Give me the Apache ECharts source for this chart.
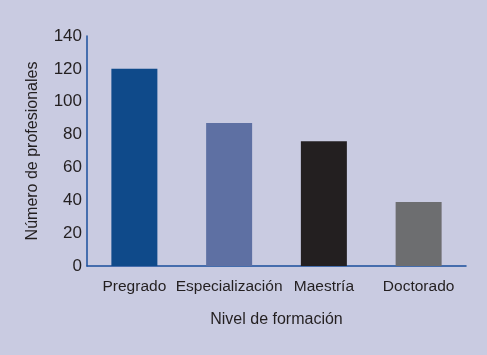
<!DOCTYPE html>
<html>
<head>
<meta charset="utf-8">
<script src="https://cdn.jsdelivr.net/npm/echarts@6/dist/echarts.min.js"></script>
<style>
  html, body { margin: 0; padding: 0; background: #c9cbe1; }
  #main { width: 487px; height: 355px; }
</style>
</head>
<body>
<div id="main"></div>
<script>
// nivel de formación
const categories = ['Pregrado', 'Especialización', 'Maestría', 'Doctorado'];
const values = [120, 87, 76, 39];
const barColors = ['#0f4a8a', '#5e70a3', '#231f20', '#6d6e70'];
const yTicks = [0, 20, 40, 60, 80, 100, 120, 140];

const textColor = '#231f20';
const axisColor = '#1a4f9c';
const font = 'Liberation Sans';

let myChart = echarts.init(document.getElementById('main'));
myChart.setOption({
  backgroundColor: '#c9cbe1',
  animation: false,
  grid: { left: 87, right: 21, top: 36, bottom: 89 },
  xAxis: {
    type: 'category',
    data: categories,
    name: 'Nivel de formación',
    nameLocation: 'middle',
    nameGap: 46,
    nameTextStyle: { color: textColor, fontSize: 16, fontFamily: font },
    axisLine: { show: true, lineStyle: { color: axisColor, width: 1.5 } },
    axisTick: { show: false },
    axisLabel: { color: textColor, fontSize: 15.5, fontFamily: font, margin: 13, interval: 0 }
  },
  yAxis: {
    type: 'value',
    min: yTicks[0],
    max: yTicks[yTicks.length - 1],
    interval: 20,
    name: 'Número de profesionales',
    nameLocation: 'middle',
    nameGap: 46,
    nameTextStyle: { color: textColor, fontSize: 16, fontFamily: font },
    axisLine: { show: true, lineStyle: { color: axisColor, width: 1.5 } },
    axisTick: { show: false },
    splitLine: { show: false },
    axisLabel: { color: textColor, fontSize: 17, fontFamily: font, margin: 5 }
  },
  series: [{
    type: 'bar',
    barWidth: 46,
    data: values.map((v, i) => ({ value: v, itemStyle: { color: barColors[i] } }))
  }]
});
</script>
</body>
</html>
